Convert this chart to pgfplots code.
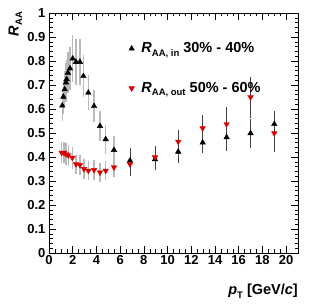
\documentclass[border=0pt]{standalone}
\usepackage{pgfplots}
\pgfplotsset{compat=1.18}
\usepackage{fontspec}
\setmainfont{Liberation Sans}
\begin{document}
\begin{tikzpicture}
\useasboundingbox (-49pt,-51pt) rectangle (263pt,253pt);
\begin{axis}[
  scale only axis, width=249pt, height=240pt,
  xmin=0, xmax=21, ymin=0, ymax=1,
  xtick={0,2,...,20}, minor x tick num=3,
  ytick={0,0.1,...,1.0}, minor y tick num=4,
  yticklabels={0,0.1,0.2,0.3,0.4,0.5,0.6,0.7,0.8,0.9,1},
  tick pos=both, tick align=inside,
  major tick length=7pt, minor tick length=3.5pt,
  tick style={black, line width=0.5pt},
  /pgf/number format/assume math mode=true,
  ticklabel style={font=\fontsize{13}{15}\selectfont\bfseries},
  xticklabel style={yshift=1pt},
  xlabel={\textbf{\textit{p}\raisebox{-0.45ex}{\fontsize{9.5}{10}\selectfont T}\ [GeV/\textit{c}]}},
  xlabel style={font=\fontsize{14.5}{16}\selectfont, at={(axis description cs:1.0,-0.13)}, anchor=north east, inner sep=0pt},
  ylabel={\textbf{\textit{R}\raisebox{-0.45ex}{\fontsize{9.5}{10}\selectfont AA}}},
  ylabel style={font=\fontsize{14.5}{16}\selectfont, at={(axis description cs:-0.135,1.005)}, anchor=east, inner sep=0pt},
  legend style={at={(axis description cs:0.32,0.885)}, anchor=north west, draw=none, fill=none,
    font=\fontsize{14.5}{16}\selectfont\bfseries, row sep=24pt, column sep=5pt, inner sep=0pt},
  legend cell align=left,
  error bars/error mark=none,
  lowbar/.style={error bars/error bar style={gray!55, line width=1.3pt}},
  highbar/.style={error bars/error bar style={black!75, line width=0.6pt}},
]
% in-plane, low pT (grey systematic-style bars)
\addplot+[only marks, black, mark=triangle*, mark size=3.2pt, mark options={fill=black}, lowbar,
  error bars/.cd, y dir=both, y explicit]
  table[x=x, y=y, y error=e] {
x y e
1.12 0.614 0.065
1.21 0.651 0.070
1.32 0.682 0.075
1.43 0.710 0.080
1.49 0.724 0.080
1.60 0.751 0.085
1.77 0.769 0.090
2.00 0.810 0.097
2.28 0.796 0.097
2.61 0.796 0.095
2.90 0.737 0.087
3.32 0.668 0.073
3.80 0.612 0.066
4.30 0.529 0.062
4.78 0.474 0.060
5.48 0.429 0.060
};
\addlegendentry{\textit{R}\raisebox{-0.45ex}{\fontsize{9.5}{10}\selectfont AA, in}\ 30\% - 40\%}
\addplot+[only marks, red!85!black, mark=triangle*, mark size=3.2pt, mark options={rotate=180, fill=red!85!black}, lowbar,
  error bars/.cd, y dir=both, y explicit]
  table[x=x, y=y, y error=e] {
x y e
1.07 0.418 0.045
1.26 0.418 0.045
1.43 0.412 0.045
1.63 0.407 0.045
1.97 0.397 0.045
2.28 0.370 0.040
2.61 0.367 0.040
2.95 0.350 0.040
3.32 0.343 0.040
3.80 0.346 0.040
4.30 0.336 0.040
4.78 0.343 0.040
5.48 0.357 0.040
};
\addlegendentry{\textit{R}\raisebox{-0.45ex}{\fontsize{9.5}{10}\selectfont AA, out}\ 50\% - 60\%}
% high pT (thin dark bars)
\addplot+[forget plot, only marks, black, mark=triangle*, mark size=3.2pt, mark options={fill=black}, highbar,
  error bars/.cd, y dir=both, y explicit]
  table[x=x, y=y, y error=e] {
x y e
6.83 0.385 0.052
8.94 0.390 0.045
10.9 0.422 0.045
12.96 0.460 0.045
14.98 0.482 0.055
17.0 0.499 0.060
19.0 0.537 0.055
};
\addplot+[forget plot, only marks, red!85!black, mark=triangle*, mark size=3.2pt, mark options={rotate=180, fill=red!85!black}, highbar,
  error bars/.cd, y dir=both, y explicit]
  table[x=x, y=y, y error=e] {
x y e
6.83 0.370 0.050
8.94 0.399 0.045
10.9 0.464 0.050
12.96 0.520 0.055
14.98 0.537 0.070
17.0 0.649 0.085
19.0 0.499 0.080
};
\end{axis}
\end{tikzpicture}
\end{document}
